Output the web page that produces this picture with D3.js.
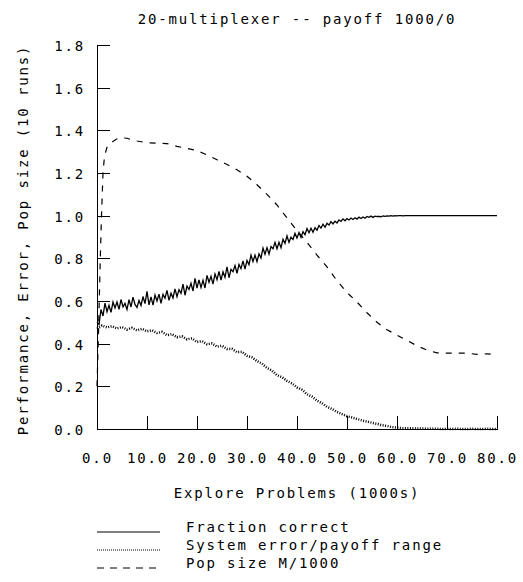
<!DOCTYPE html>
<html>
<head>
<meta charset="utf-8">
<script src="https://cdn.jsdelivr.net/npm/d3@7"></script>
<style>
  body { margin: 0; background: #fff; }
  svg text { font-family: "DejaVu Sans Mono", monospace; font-size: 14px; letter-spacing: 1.85px; fill: #000; }
</style>
</head>
<body>
<div id="chart"></div>
<script>
// 20-multiplexer chart

const title = "20-multiplexer -- payoff 1000/0";
const xLabel = "Explore Problems (1000s)";
const yLabel = "Performance, Error, Pop size (10 runs)";
const xTicks = [0, 10, 20, 30, 40, 50, 60, 70, 80];
const yTicks = [0, 0.2, 0.4, 0.6, 0.8, 1.0, 1.2, 1.4, 1.6, 1.8];
const legendNames = ["Fraction correct", "System error/payoff range", "Pop size M/1000"];

// fraction correct, one value every 0.4k problems
const perfStep = 0.4;
const perf = [
  0.50,0.49,0.56,0.53,0.59,0.55,0.58,0.547,0.595,0.567,
  0.595,0.561,0.607,0.573,0.589,0.56,0.606,0.572,0.618,0.584,
  0.57,0.602,0.579,0.621,0.588,0.645,0.582,0.619,0.581,0.628,
  0.60,0.632,0.589,0.631,0.613,0.65,0.603,0.636,0.614,0.657,
  0.62,0.653,0.636,0.679,0.627,0.67,0.654,0.683,0.647,0.706,
  0.66,0.699,0.663,0.697,0.661,0.72,0.688,0.716,0.679,0.727,
  0.70,0.739,0.698,0.737,0.711,0.76,0.709,0.748,0.737,0.766,
  0.73,0.771,0.752,0.788,0.749,0.79,0.77,0.815,0.785,0.815,
  0.785,0.821,0.802,0.848,0.819,0.85,0.82,0.855,0.845,0.875,
  0.845,0.875,0.85,0.89,0.87,0.905,0.875,0.899,0.888,0.917,
  0.895,0.921,0.898,0.925,0.911,0.94,0.92,0.941,0.922,0.943,
  0.932,0.954,0.942,0.96,0.946,0.964,0.956,0.972,0.961,0.974,
  0.966,0.98,0.973,0.985,0.976,0.986,0.98,0.989,0.982,0.99,
  0.984,0.993,0.987,0.994,0.988,0.996,0.992,0.998,0.992,0.998,
  0.996,0.997,0.995,0.999,0.997,0.999,0.998,1.0,0.998,1.0,
  0.999,1,1,0.999,1,1,1,1,1,1,
  1,1,1,1,1,1,1,1,1,1,
  1,1,1,1,1,1,1,1,1,1,
  1,1,1,1,1,1,1,1,1,1,
  1,1,1,1,1,1,1,1,1,1,
  1
];

// system error / payoff range, one value every 1k problems
const errStep = 1;
const err = [
  0.47,0.485,0.476,0.482,0.471,0.478,0.466,0.474,0.462,0.47,
  0.458,0.463,0.45,0.455,0.44,0.445,0.43,0.434,0.42,0.425,
  0.408,0.412,0.397,0.401,0.386,0.39,0.375,0.376,0.36,0.362,
  0.343,0.336,0.318,0.307,0.286,0.274,0.252,0.243,0.225,0.214,
  0.195,0.184,0.163,0.152,0.133,0.121,0.104,0.094,0.08,0.07,
  0.06,0.054,0.047,0.04,0.035,0.029,0.024,0.018,0.014,0.009,
  0.006,0.004,0.003,0.004,0.002,0.003,0.001,0.002,0.001,0,
  0.001,0,0.001,0,0,0.001,0,0,0.001,0,
  0
];

// population size / 1000
const popX = [0,0.3,0.6,0.9,1.2,1.5,2,3,4,5,6,7,8,10,12,14,16,18,20,22,24,26,28,30,32,34,36,38,40,
  42,44,46,48,50,52,54,56,58,60,62,64,66,68,70,72,74,76,78,80];
const popY = [0.20,0.45,0.75,1.0,1.2,1.28,1.32,1.345,1.36,1.365,1.363,1.355,1.35,1.342,1.34,1.338,1.325,
  1.315,1.305,1.285,1.262,1.24,1.215,1.185,1.145,1.10,1.05,0.99,0.93,0.875,0.815,0.76,0.695,0.64,
  0.595,0.545,0.50,0.465,0.44,0.415,0.39,0.37,0.357,0.356,0.356,0.355,0.35,0.352,0.35];

const W = 523, H = 582;
const svg = d3.select("#chart").append("svg")
  .attr("width", W)
  .attr("height", H);

const x = d3.scaleLinear().domain([0, 80]).range([97, 497]);
const y = d3.scaleLinear().domain([0, 1.8]).range([429, 45]);

// axes, ticks point inward
const xAxis = svg.append("g")
  .attr("transform", `translate(0,${y(0)})`)
  .call(d3.axisBottom(x).tickValues(xTicks).tickSizeInner(-13).tickSizeOuter(0)
    .tickPadding(24).tickFormat(d3.format(".1f")));

const yAxis = svg.append("g")
  .attr("transform", `translate(${x(0)},0)`)
  .call(d3.axisLeft(y).tickValues(yTicks).tickSizeInner(-13).tickSizeOuter(0)
    .tickPadding(12).tickFormat(d3.format(".1f")));

[xAxis, yAxis].forEach(g => {
  g.attr("font-family", null).attr("font-size", null);
  g.selectAll("path, line").attr("stroke", "#000").attr("shape-rendering", "crispEdges");
});
yAxis.selectAll("text").attr("dy", "0.4em");

// titles
svg.append("text")
  .attr("x", (x(0) + x(80)) / 2)
  .attr("y", 24)
  .attr("text-anchor", "middle")
  .text(title);

svg.append("text")
  .attr("x", (x(0) + x(80)) / 2)
  .attr("y", 498)
  .attr("text-anchor", "middle")
  .text(xLabel);

svg.append("text")
  .attr("transform", `translate(28,240) rotate(-90)`)
  .attr("text-anchor", "middle")
  .text(yLabel);

// series
const line = d3.line().x(d => x(d[0])).y(d => y(d[1]));

svg.append("path")
  .datum(popX.map((v, i) => [v, popY[i]]))
  .attr("d", line)
  .attr("fill", "none")
  .attr("stroke", "#000")
  .attr("stroke-width", 1.2)
  .attr("stroke-dasharray", "6,7");

svg.append("path")
  .datum(err.map((v, i) => [i * errStep, v]))
  .attr("d", line)
  .attr("fill", "none")
  .attr("stroke", "#000")
  .attr("stroke-width", 2.5)
  .attr("stroke-dasharray", "1,1.5");

svg.append("path")
  .datum(perf.map((v, i) => [i * perfStep, v]))
  .attr("d", line)
  .attr("fill", "none")
  .attr("stroke", "#000")
  .attr("stroke-width", 1.3);

// legend
const dashes = [null, "1,1", "7,6"];
const legend = svg.append("g");
legendNames.forEach((name, i) => {
  const ly = 532 + i * 18;
  legend.append("line")
    .attr("x1", 97).attr("x2", 160)
    .attr("y1", ly).attr("y2", ly)
    .attr("stroke", "#000")
    .attr("stroke-width", 1)
    .attr("stroke-dasharray", dashes[i]);
  legend.append("text")
    .attr("x", 186)
    .attr("y", ly)
    .text(name);
});
</script>
</body>
</html>
